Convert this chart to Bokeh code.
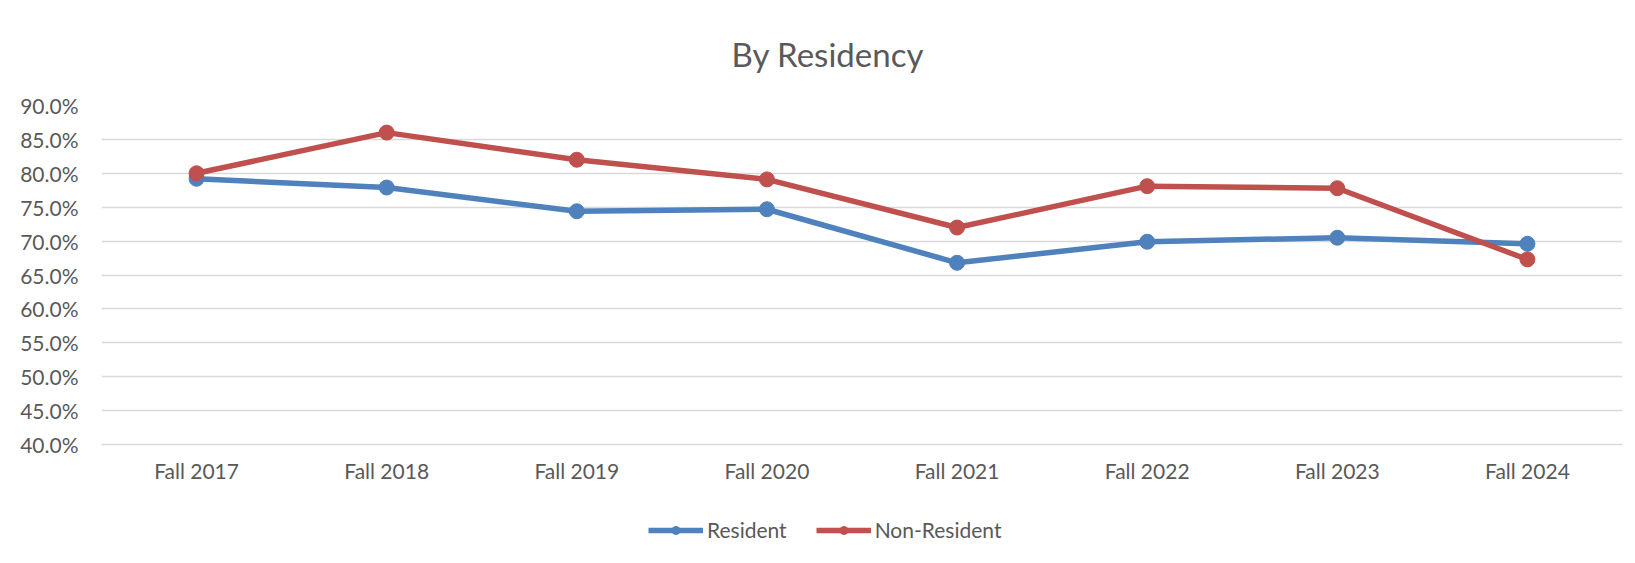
from bokeh.plotting import figure
from bokeh.layouts import column
from bokeh.models import (FactorRange, Range1d, NumeralTickFormatter, SingleIntervalTicker,
                          Legend, LegendItem)
from bokeh.embed import file_html
from bokeh.resources import INLINE

terms = ["Fall 2017", "Fall 2018", "Fall 2019", "Fall 2020",
         "Fall 2021", "Fall 2022", "Fall 2023", "Fall 2024"]
resident = [0.792, 0.779, 0.744, 0.747, 0.668, 0.699, 0.705, 0.696]
non_resident = [0.800, 0.860, 0.820, 0.791, 0.720, 0.781, 0.778, 0.673]
series_names = ["Resident", "Non-Resident"]
title_text = "By Residency"

FONT = "Lato"
TXT = "#595959"
BLUE = "#4f81bd"
RED = "#c0504d"

p = figure(x_range=FactorRange(*terms, range_padding=0),
           y_range=Range1d(0.40, 0.90),
           width=1635, height=500,
           output_backend="svg", toolbar_location=None,
           min_border_left=101, min_border_right=13, min_border_top=105, min_border_bottom=56)
p.outline_line_color = None
p.background_fill_color = "white"
p.border_fill_color = "white"

p.title.text = title_text
p.title.align = "left"
p.title.offset = 630
p.title.text_font = FONT
p.title.text_font_size = "33px"
p.title.text_font_style = "normal"
p.title.text_color = TXT
p.title.standoff = 63

p.yaxis.ticker = SingleIntervalTicker(interval=0.05)
p.yaxis.formatter = NumeralTickFormatter(format="0.0%")
p.yaxis.axis_line_color = None
p.yaxis.major_tick_line_color = None
p.yaxis.minor_tick_line_color = None
p.yaxis.major_label_standoff = 17
p.yaxis.major_label_text_font = FONT
p.yaxis.major_label_text_font_size = "21px"
p.yaxis.major_label_text_color = TXT

p.xaxis.axis_line_color = "#d9d9d9"
p.xaxis.axis_line_width = 1.5
p.xaxis.major_tick_line_color = None
p.xaxis.minor_tick_line_color = None
p.xaxis.major_label_standoff = 7
p.xaxis.major_label_text_font = FONT
p.xaxis.major_label_text_font_size = "21px"
p.xaxis.major_label_text_color = TXT

p.xgrid.grid_line_color = None
p.ygrid.grid_line_color = "#d9d9d9"
p.ygrid.grid_line_width = 1.5

p.line(terms, resident, line_color=BLUE, line_width=5.5)
p.scatter(terms, resident, size=15, fill_color=BLUE, line_color=BLUE)
p.line(terms, non_resident, line_color=RED, line_width=5.5)
p.scatter(terms, non_resident, size=15, fill_color=RED, line_color=RED)

# legend strip below the chart (series drawn outside its visible range, only the legend shows)
q = figure(x_range=p.x_range, y_range=Range1d(0.0, 0.1), width=1635, height=63,
           output_backend="svg", toolbar_location=None,
           x_axis_type=None, y_axis_type=None,
           min_border_left=101, min_border_right=13, min_border_top=0, min_border_bottom=0)
q.outline_line_color = None
q.background_fill_color = "white"
q.border_fill_color = "white"
q.grid.visible = False
lq1 = q.line(terms, resident, line_color=BLUE, line_width=5.5)
sq1 = q.scatter(terms, resident, size=15, fill_color=BLUE, line_color=BLUE)
lq2 = q.line(terms, non_resident, line_color=RED, line_width=5.5)
sq2 = q.scatter(terms, non_resident, size=15, fill_color=RED, line_color=RED)

legend = Legend(items=[LegendItem(label=series_names[0], renderers=[lq1, sq1]),
                       LegendItem(label=series_names[1], renderers=[lq2, sq2])],
                orientation="horizontal", location=(547, 21),
                glyph_width=55, glyph_height=20, label_standoff=4, spacing=29,
                label_text_font=FONT, label_text_font_size="21px", label_text_color=TXT,
                border_line_color=None, background_fill_alpha=0, padding=0, margin=0)
q.add_layout(legend, "center")

layout = column(p, q, spacing=0)
open("out.html", "w").write(file_html(layout, INLINE))
